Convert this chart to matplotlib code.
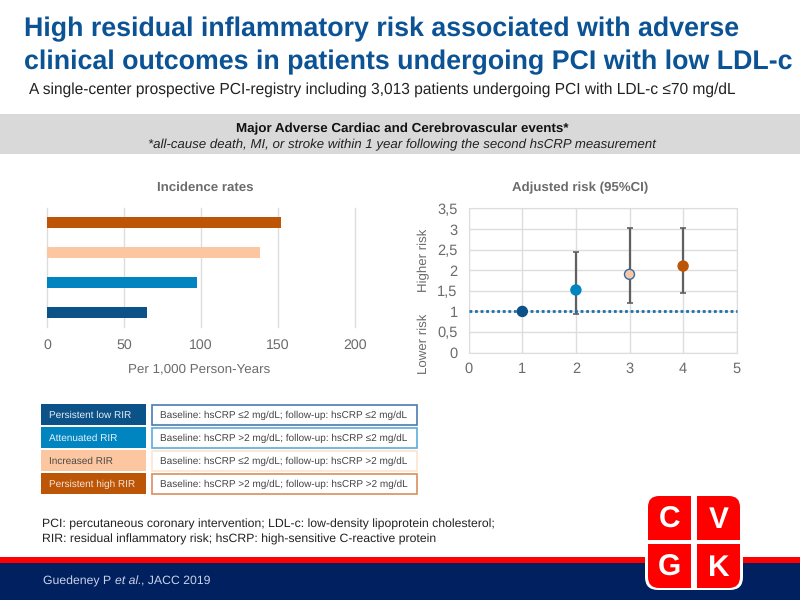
import matplotlib
matplotlib.use('Agg')
import matplotlib.pyplot as plt
from matplotlib.patches import Rectangle, FancyBboxPatch

plt.rcParams['font.family'] = ['Liberation Sans', 'DejaVu Sans']
plt.rcParams['text.hinting'] = 'no_hinting'

# data
groups = ['Persistent low RIR', 'Attenuated RIR', 'Increased RIR', 'Persistent high RIR']
definitions = ['Baseline: hsCRP ≤2 mg/dL; follow-up: hsCRP ≤2 mg/dL',
               'Baseline: hsCRP >2 mg/dL; follow-up: hsCRP ≤2 mg/dL',
               'Baseline: hsCRP ≤2 mg/dL; follow-up: hsCRP >2 mg/dL',
               'Baseline: hsCRP >2 mg/dL; follow-up: hsCRP >2 mg/dL']
incidence = [64.5, 97, 138, 152]
risk_x = [1, 2, 3, 4]
risk = [1, 1.52, 1.9, 2.1]
ci_low = [1, 0.95, 1.2, 1.45]
ci_high = [1, 2.44, 3.03, 3.02]
bar_ticks = [0, 50, 100, 150, 200]
risk_xticks = [0, 1, 2, 3, 4, 5]
risk_yticks = [0, 0.5, 1, 1.5, 2, 2.5, 3, 3.5]
risk_ylabels = ['0', '0,5', '1', '1,5', '2', '2,5', '3', '3,5']
logo_letters = ['C', 'V', 'G', 'K']

colors = ['#0B5288', '#0085C0', '#FCC6A0', '#BD5507']
edge_colors = ['#4A7DAE', '#5AAEDC', '#FDE3D0', '#D98F5E']
text_colors = ['#E8EEF4', '#E8F2F8', '#4A4A4A', '#F6E6DA']
title_blue = '#0B5394'
grey = '#6B6B6B'
grid_grey = '#DDDDDD'
footer_text = '#C9D3E6'

fig = plt.figure(figsize=(8, 6), dpi=100)


def px_axes(left, top, right, bottom):
    return fig.add_axes([left / 800, 1 - bottom / 600, (right - left) / 800, (bottom - top) / 600])


# page furniture in pixel coordinates
bg = fig.add_axes([0, 0, 1, 1])
bg.set_xlim(0, 800)
bg.set_ylim(600, 0)
bg.axis('off')

bg.text(24, 29, 'High residual inflammatory risk associated with adverse', fontsize=19.25,
        fontweight='bold', color=title_blue, va='center')
bg.text(24, 62, 'clinical outcomes in patients undergoing PCI with low LDL-c', fontsize=19.25,
        fontweight='bold', color=title_blue, va='center')
bg.text(29, 90, 'A single-center prospective PCI-registry including 3,013 patients undergoing PCI with LDL-c ≤70 mg/dL',
        fontsize=11.2, color='#222222', va='center')

bg.add_patch(Rectangle((0, 114), 800, 40, facecolor='#D9D9D9', edgecolor='none'))
bg.text(402, 129, 'Major Adverse Cardiac and Cerebrovascular events*', fontsize=9.6, fontweight='bold',
        color='#111111', ha='center', va='center')
bg.text(402, 145, '*all-cause death, MI, or stroke within 1 year following the second hsCRP measurement',
        fontsize=9.55, style='italic', color='#222222', ha='center', va='center')

bg.text(205, 188, 'Incidence rates', fontsize=9.5, fontweight='bold', color=grey, ha='center', va='center')
bg.text(580, 188, 'Adjusted risk (95%CI)', fontsize=9.55, fontweight='bold', color=grey, ha='center', va='center')
bg.text(424, 260, 'Higher risk', fontsize=9.5, color=grey, rotation=90, ha='center', va='center')
bg.text(424, 344, 'Lower risk', fontsize=9.5, color=grey, rotation=90, ha='center', va='center')

# legend table
row_tops = [404, 427, 450, 473]
for i in range(4):
    top = row_tops[i]
    bg.add_patch(Rectangle((41, top), 105, 21, facecolor=colors[i], edgecolor='none'))
    bg.add_patch(Rectangle((152, top + 1), 265, 19.5, facecolor='white', edgecolor=edge_colors[i], linewidth=1.2))
    bg.text(49, top + 11.5, groups[i], fontsize=7.2, color=text_colors[i], va='center')
    bg.text(160, top + 11.5, definitions[i], fontsize=7.2, color='#444444', va='center')

bg.text(42, 524, 'PCI: percutaneous coronary intervention; LDL-c: low-density lipoprotein cholesterol;',
        fontsize=8.85, color='#222222', va='center')
bg.text(42, 539, 'RIR: residual inflammatory risk; hsCRP: high-sensitive C-reactive protein',
        fontsize=8.85, color='#222222', va='center')

# footer
bg.add_patch(Rectangle((0, 557), 800, 6, facecolor='#FF0000', edgecolor='none'))
bg.add_patch(Rectangle((0, 563), 800, 37, facecolor='#002060', edgecolor='none'))
cite1 = bg.text(43, 585, 'Guedeney P', fontsize=8.8, color=footer_text, va='baseline')
cite2 = bg.annotate('et al.', xy=(1, 0), xycoords=cite1, xytext=(2.5, 0.8), textcoords='offset points',
                    fontsize=8.8, style='italic', color=footer_text, va='bottom')
bg.annotate(', JACC 2019', xy=(1, 0), xycoords=cite2, xytext=(0, 0), textcoords='offset points',
            fontsize=8.8, color=footer_text, va='bottom')

# logo
bg.add_patch(FancyBboxPatch((645, 494), 98, 96, boxstyle='round,pad=0,rounding_size=13',
                            facecolor='white', edgecolor='none'))
logo_clip = FancyBboxPatch((648, 496), 92, 92, boxstyle='round,pad=0,rounding_size=11',
                           facecolor='none', edgecolor='none')
bg.add_patch(logo_clip)
quads = [(648, 496), (697, 496), (648, 544), (697, 544)]
for (qx, qy), letter in zip(quads, logo_letters):
    quad = Rectangle((qx, qy), 43, 43.5, facecolor='#FF0000', edgecolor='none')
    bg.add_patch(quad)
    quad.set_clip_path(logo_clip)
    bg.text(qx + 21.5, qy + 24, letter, fontsize=21.5, fontweight='bold', color='white',
            ha='center', va='center')

# incidence bars
ax1 = px_axes(47.3, 207.7, 355, 326.7)
ax1.barh(range(4), incidence, height=0.355, color=colors, zorder=3)
ax1.set_xlim(0, 200)
ax1.set_ylim(-0.48, 3.5)
ax1.set_xticks(bar_ticks)
ax1.set_yticks([])
ax1.grid(axis='x', color=grid_grey, linewidth=1)
for line in ax1.get_xgridlines():
    line.set_clip_on(False)
ax1.set_axisbelow(True)
for s in ax1.spines.values():
    s.set_visible(False)
ax1.tick_params(axis='x', length=0, labelsize=10.2, labelcolor=grey, pad=8.5)
ax1.set_xlabel('Per 1,000 Person-Years', fontsize=9.6, color=grey, labelpad=8.5, x=0.495)
ax1.patch.set_alpha(0)

# adjusted risk
ax2 = px_axes(468.7, 208.3, 736.7, 352.7)
ax2.set_xlim(0, 5)
ax2.set_ylim(0, 3.5)
ax2.set_xticks(risk_xticks)
ax2.set_yticks(risk_yticks)
ax2.set_yticklabels(risk_ylabels)
ax2.grid(color=grid_grey, linewidth=1)
ax2.set_axisbelow(True)
for s in ax2.spines.values():
    s.set_color(grid_grey)
ax2.tick_params(axis='x', length=0, labelsize=10.5, labelcolor=grey, pad=7)
ax2.tick_params(axis='y', length=0, labelsize=10.5, labelcolor=grey, pad=8)
ax2.patch.set_alpha(0)

for i in range(1, 4):
    ax2.errorbar(risk_x[i], risk[i], yerr=[[risk[i] - ci_low[i]], [ci_high[i] - risk[i]]],
                 fmt='none', ecolor='#606060', elinewidth=1.6, capsize=2, capthick=1.2, zorder=3)
ax2.axhline(1, color='#1F6FA8', linewidth=2, linestyle=(0, (1, 1)), zorder=4, clip_on=False)
point_edges = [colors[0], colors[1], '#2F6DA8', colors[3]]
ax2.scatter(risk_x, risk, s=52, c=colors, edgecolors=point_edges, linewidths=1, zorder=5)

fig.savefig('out.png', dpi=100)
